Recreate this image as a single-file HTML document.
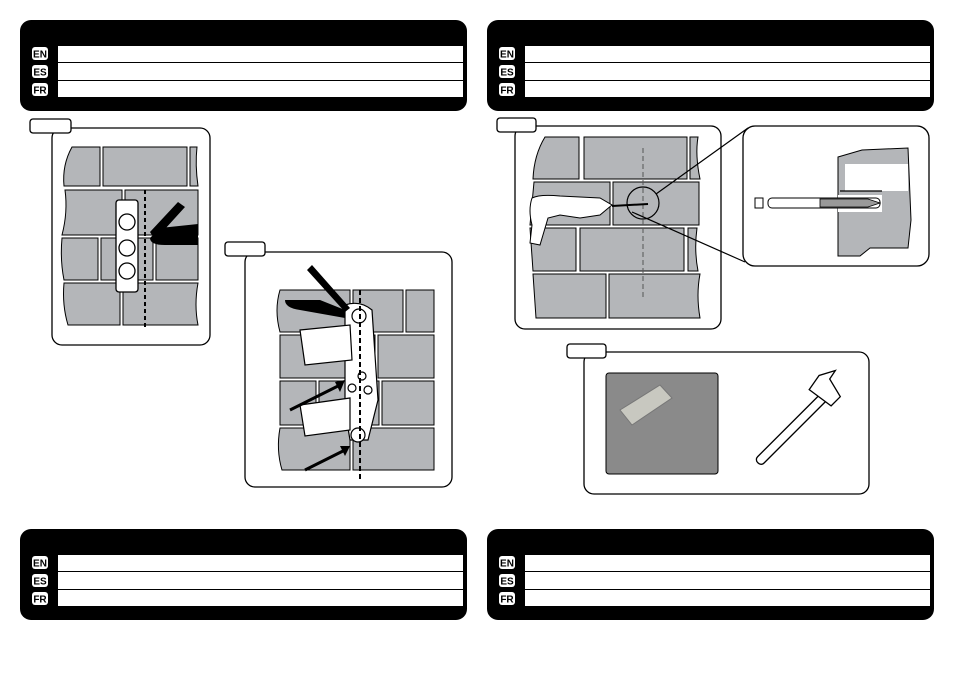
<!DOCTYPE html>
<html><head><meta charset="utf-8"><style>
html,body{margin:0;padding:0;background:#fff;width:954px;height:674px;overflow:hidden}
svg{display:block;font-family:"Liberation Sans",sans-serif}
</style></head><body>
<svg width="954" height="674" viewBox="0 0 954 674" xmlns="http://www.w3.org/2000/svg">
<defs>
<g id="hdr">
<rect x="0" y="0" width="447" height="91" rx="11" fill="#000"/>
<rect x="38" y="26" width="405" height="16" fill="#fff"/>
<rect x="38" y="43" width="405" height="17" fill="#fff"/>
<rect x="38" y="61" width="405" height="16" fill="#fff"/>
<rect x="12" y="27" width="16" height="13" rx="3" fill="#fff"/>
<rect x="12" y="45" width="16" height="13" rx="3" fill="#fff"/>
<rect x="12" y="63" width="16" height="13" rx="3" fill="#fff"/>
<text x="20" y="37.5" font-size="10" font-weight="bold" text-anchor="middle">EN</text>
<text x="20" y="55.5" font-size="10" font-weight="bold" text-anchor="middle">ES</text>
<text x="20" y="73.5" font-size="10" font-weight="bold" text-anchor="middle">FR</text>
</g>
</defs>
<use href="#hdr" x="20" y="20"/>
<use href="#hdr" x="487" y="20"/>
<use href="#hdr" x="20" y="529"/>
<use href="#hdr" x="487" y="529"/>

<g fill="none" stroke="#000" stroke-width="1.3">
<rect x="52" y="128" width="158" height="217" rx="10" fill="#fff"/>
<rect x="30" y="119" width="41" height="14" rx="3" fill="#fff"/>
<rect x="245" y="252" width="207" height="235" rx="10" fill="#fff"/>
<rect x="225" y="242" width="40" height="14" rx="3" fill="#fff"/>
<rect x="515" y="126" width="206" height="203" rx="10" fill="#fff"/>
<rect x="497" y="118" width="39" height="14" rx="3" fill="#fff"/>
<rect x="743" y="126" width="186" height="140" rx="12" fill="#fff"/>
<rect x="584" y="352" width="285" height="142" rx="10" fill="#fff"/>
<rect x="567" y="344" width="39" height="14" rx="3" fill="#fff"/>
</g>

<!-- panel1 bricks -->
<g fill="#b4b6b9" stroke="#000" stroke-width="1">
<path d="M72 147 L100 147 L100 186 L64 186 Q62 165 72 147Z"/>
<rect x="103" y="147" width="84" height="39"/>
<path d="M190 147 L197 147 Q195 165 198 186 L190 186Z"/>
<path d="M65 190 L122 190 L122 235 L62 235 Q68 212 65 190Z"/>
<rect x="125" y="190" width="73" height="45"/>
<path d="M62 238 L98 238 L98 280 L64 280 Q60 260 62 238Z"/>
<rect x="101" y="238" width="52" height="42"/>
<rect x="156" y="238" width="42" height="42"/>
<path d="M64 283 L120 283 L120 325 L68 325 Q62 305 64 283Z"/>
<path d="M123 283 L198 283 Q194 305 198 325 L123 325Z"/>
</g>
<rect x="116" y="200" width="22" height="92" rx="3" fill="#fff" stroke="#000" stroke-width="1.3"/>
<g fill="#fff" stroke="#000" stroke-width="1.3">
<circle cx="127" cy="222" r="8"/><circle cx="127" cy="248" r="8"/><circle cx="127" cy="271" r="8"/>
</g>
<line x1="145" y1="190" x2="145" y2="330" stroke="#000" stroke-width="2" stroke-dasharray="4 3"/>
<path d="M150 232 L178 202 L185 207 L155 240Z M160 228 L198 224 L198 245 L165 245 Q150 245 150 238Z" fill="#000"/>

<!-- panel2 bricks -->
<g fill="#b4b6b9" stroke="#000" stroke-width="1">
<path d="M280 290 L350 290 L350 332 L280 332 Q274 310 280 290Z"/>
<rect x="353" y="290" width="50" height="42"/>
<rect x="406" y="290" width="28" height="42"/>
<path d="M280 335 L375 335 L375 378 L280 378Z"/>
<rect x="378" y="335" width="56" height="43"/>
<path d="M280 381 L316 381 L316 425 L280 425Z"/>
<rect x="319" y="381" width="60" height="44"/>
<rect x="382" y="381" width="52" height="44"/>
<path d="M280 428 L350 428 L350 470 L282 470 Q276 450 280 428Z"/>
<rect x="353" y="428" width="81" height="42"/>
</g>
<g fill="#fff" stroke="#000" stroke-width="1.2">
<path d="M345 305 Q360 300 372 310 L378 400 L368 440 L350 440 L345 410Z"/>
<path d="M300 330 L350 325 L352 360 L305 365Z"/>
<path d="M300 405 L350 398 L350 430 L305 436Z"/>
<circle cx="359" cy="316" r="7"/><circle cx="358" cy="435" r="7"/>
<circle cx="362" cy="376" r="4"/><circle cx="352" cy="388" r="4"/><circle cx="368" cy="390" r="4"/>
</g>
<line x1="360" y1="290" x2="360" y2="480" stroke="#000" stroke-width="2" stroke-dasharray="5 3"/>
<path d="M285 300 L320 300 L345 310 L345 318 L300 310 Q285 308 285 300Z M312 265 L350 308 L345 312 L307 270Z" fill="#000"/>
<g stroke="#000" stroke-width="3"><line x1="290" y1="410" x2="340" y2="385"/><line x1="305" y1="470" x2="345" y2="450"/></g>
<path d="M345 380 L335 382 L340 392Z M350 446 L340 446 L345 456Z" fill="#000"/>

<!-- panel3 bricks -->
<g fill="#b4b6b9" stroke="#000" stroke-width="1">
<path d="M545 137 L579 137 L579 179 L533 179 Q534 155 545 137Z"/>
<rect x="584" y="137" width="103" height="42"/>
<path d="M690 137 L698 137 Q695 155 700 179 L690 179Z"/>
<path d="M534 182 L610 182 L610 225 L530 225Z"/>
<rect x="613" y="182" width="86" height="43"/>
<path d="M530 228 L576 228 L576 271 L533 271Z"/>
<rect x="580" y="228" width="104" height="43"/>
<path d="M688 228 L697 228 Q694 250 698 271 L688 271Z"/>
<path d="M533 274 L606 274 L606 318 L536 318Z"/>
<path d="M609 274 L700 274 Q696 295 700 318 L609 318Z"/>
</g>
<line x1="643" y1="148" x2="643" y2="300" stroke="#555" stroke-width="1" stroke-dasharray="5 3"/>
<circle cx="643" cy="203" r="16" fill="none" stroke="#000" stroke-width="1.2"/>
<path d="M532 198 Q540 194 560 196 L600 198 L612 205 L600 215 L580 218 L560 215 L548 218 L540 245 L530 243 L532 225 Q528 210 532 198Z" fill="#fff" stroke="#000" stroke-width="1"/>
<line x1="612" y1="206" x2="648" y2="204" stroke="#000" stroke-width="2"/>
<g stroke="#000" stroke-width="1.2">
<line x1="656" y1="194" x2="748" y2="128"/>
<line x1="632" y1="212" x2="745" y2="262"/>
</g>

<!-- zoom detail -->
<path d="M838 157 L862 150 L908 148 L911 220 L908 248 L870 248 L860 256 L838 256Z" fill="#b4b6b9" stroke="#000"/>
<rect x="845" y="164" width="63" height="27" fill="#fff"/>
<rect x="838" y="195" width="44" height="17" fill="#fff"/>
<line x1="840" y1="191" x2="882" y2="191" stroke="#000" stroke-width="1.2"/>
<rect x="768" y="198" width="112" height="10" rx="4" fill="#fff" stroke="#000"/>
<rect x="755" y="198" width="8" height="10" fill="none" stroke="#000"/>
<path d="M820 199 L868 199 L880 203 L868 207 L820 207Z" fill="#999" stroke="#000" stroke-width="0.8"/>

<!-- panel4 -->
<rect x="606" y="373" width="112" height="101" rx="3" fill="#8a8a8a"/>
<rect x="606" y="373" width="112" height="101" rx="3" fill="none" stroke="#000"/>
<path d="M620 410 L660 385 L672 398 L632 425Z" fill="#c8c8c0" stroke="#777"/>
<g transform="rotate(-45 800 420)">
<rect x="740" y="416" width="95" height="9" rx="4" fill="#fff" stroke="#000" stroke-width="1.3"/>
<path d="M828 405 L845 402 L860 410 L850 412 L845 432 L832 432Z" fill="#fff" stroke="#000" stroke-width="1.3"/>
</g>
</svg>
</body></html>
